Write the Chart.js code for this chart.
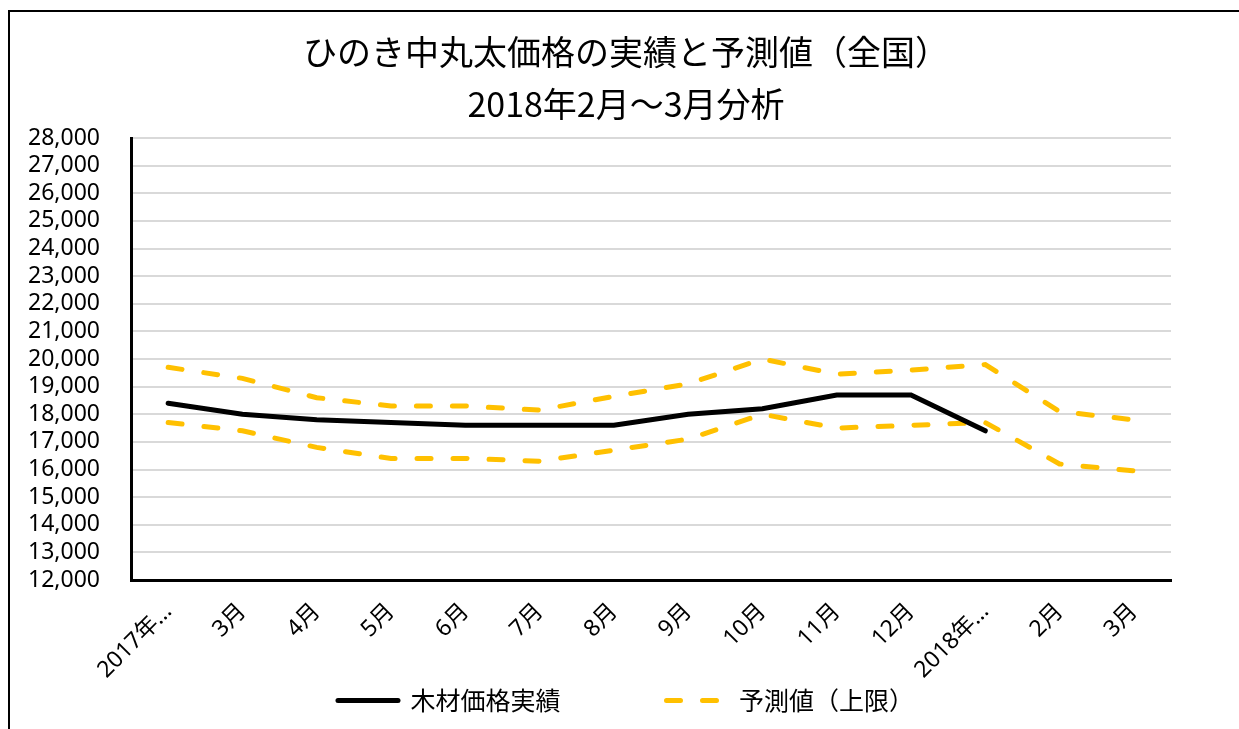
<!DOCTYPE html>
<html>
<head>
<meta charset="utf-8">
<script src="https://cdn.jsdelivr.net/npm/chart.js@4"></script>
<style>
    html, body { margin: 0; padding: 0; background: #fff; overflow: hidden; }
    #wrap { position: relative; width: 1239px; height: 729px; }
    #frame {
        position: absolute; left: 8px; top: 10px; width: 1300px; height: 800px;
        border-left: 2px solid #000; border-top: 2px solid #000;
    }
    canvas { position: absolute; left: 0; top: 0; }
</style>
</head>
<body>
<div id="wrap">
    <div id="frame"></div>
    <canvas id="chart" width="1239" height="729"></canvas>
</div>
<script>
// カテゴリ(月)
const months = ['2017年2月', '3月', '4月', '5月', '6月', '7月', '8月', '9月', '10月', '11月', '12月', '2018年1月', '2月', '3月'];
// 軸に表示されるラベル(省略表示)
const tickLabels = ['2017年…', '3月', '4月', '5月', '6月', '7月', '8月', '9月', '10月', '11月', '12月', '2018年…', '2月', '3月'];

// 木材価格実績 (円/m3)
const actual = [18400, 18000, 17800, 17700, 17600, 17600, 17600, 18000, 18200, 18700, 18700, 17400, null, null];
// 予測値(上限)
const upper = [19700, 19300, 18600, 18300, 18300, 18150, 18650, 19100, 20000, 19450, 19600, 19800, 18100, 17800];
// 予測値(下限)
const lower = [17700, 17400, 16800, 16400, 16400, 16300, 16700, 17100, 18000, 17500, 17600, 17700, 16200, 15950];

const titleLines = ['ひのき中丸太価格の実績と予測値（全国）', '2018年2月～3月分析'];

const GOLD = '#FFC000';
const JP_FONT = "'Noto Sans CJK JP', 'Noto Sans', sans-serif";
const MIX_FONT = "'Noto Sans', 'Noto Sans CJK JP', sans-serif";
const DASH = [14, 22];

// 凡例: 下限は表示しない、破線を凡例にも反映
function legendLabels(chart) {
    const items = Chart.defaults.plugins.legend.labels.generateLabels(chart);
    return items
        .filter(it => it.datasetIndex !== 2)
        .map(it => {
            const ds = chart.data.datasets[it.datasetIndex];
            it.lineDash = ds.borderDash || [];
            it.lineWidth = 5;
            it.lineCap = 'round';
            it.strokeStyle = ds.borderColor;
            it.fillStyle = ds.borderColor;
            it.pointStyle = 'line';
            // 項目間の間隔をあける
            if (it.datasetIndex === 0) it.text += '\u3000\u3000\u3000\u3000';
            return it;
        });
}

const ctx = document.getElementById('chart').getContext('2d');
new Chart(ctx, {
    type: 'line',
    data: {
        labels: months,
        datasets: [
            {
                label: '木材価格実績',
                data: actual,
                borderColor: '#000',
                backgroundColor: '#000',
                borderWidth: 5,
                borderCapStyle: 'round',
                pointRadius: 0,
                tension: 0,
                fill: false
            },
            {
                label: '予測値（上限）',
                data: upper,
                borderColor: GOLD,
                backgroundColor: GOLD,
                borderWidth: 5,
                borderDash: DASH,
                borderCapStyle: 'round',
                pointRadius: 0,
                tension: 0,
                fill: false
            },
            {
                label: '予測値（下限）',
                data: lower,
                borderColor: GOLD,
                backgroundColor: GOLD,
                borderWidth: 5,
                borderDash: DASH,
                borderCapStyle: 'round',
                pointRadius: 0,
                tension: 0,
                fill: false
            }
        ]
    },
    options: {
        responsive: false,
        animation: false,
        layout: {
            padding: { left: 81, right: 68, top: 0, bottom: 6 }
        },
        plugins: {
            title: {
                display: true,
                text: titleLines,
                color: '#000',
                font: { family: JP_FONT, size: 34, weight: 'normal', lineHeight: 1.53 },
                padding: { top: 26, bottom: 8 }
            },
            legend: {
                display: true,
                position: 'bottom',
                labels: {
                    color: '#000',
                    font: { family: JP_FONT, size: 25 },
                    usePointStyle: true,
                    pointStyleWidth: 60,
                    boxWidth: 60,
                    boxHeight: 12,
                    padding: 6,
                    generateLabels: legendLabels
                }
            },
            tooltip: { enabled: false }
        },
        scales: {
            x: {
                offset: true,
                grid: { display: false, drawTicks: false, offset: true },
                border: { display: true, color: '#000', width: 3 },
                ticks: {
                    color: '#000',
                    font: { family: MIX_FONT, size: 23 },
                    maxRotation: 45,
                    minRotation: 45,
                    autoSkip: false,
                    padding: 18,
                    callback: (val, i) => tickLabels[i]
                },
                afterFit: (scale) => { scale.height = 102; }
            },
            y: {
                min: 12000,
                max: 28000,
                grid: { color: '#d9d9d9', lineWidth: 2, drawTicks: false },
                border: { display: true, color: '#000', width: 3 },
                ticks: {
                    stepSize: 1000,
                    autoSkip: false,
                    mirror: true,
                    color: '#000',
                    font: { family: "'Noto Sans', sans-serif", size: 23 },
                    padding: -103,
                    callback: (v) => v.toLocaleString('en-US')
                },
                afterFit: (scale) => { scale.width = 50; }
            }
        }
    }
});
</script>
</body>
</html>
